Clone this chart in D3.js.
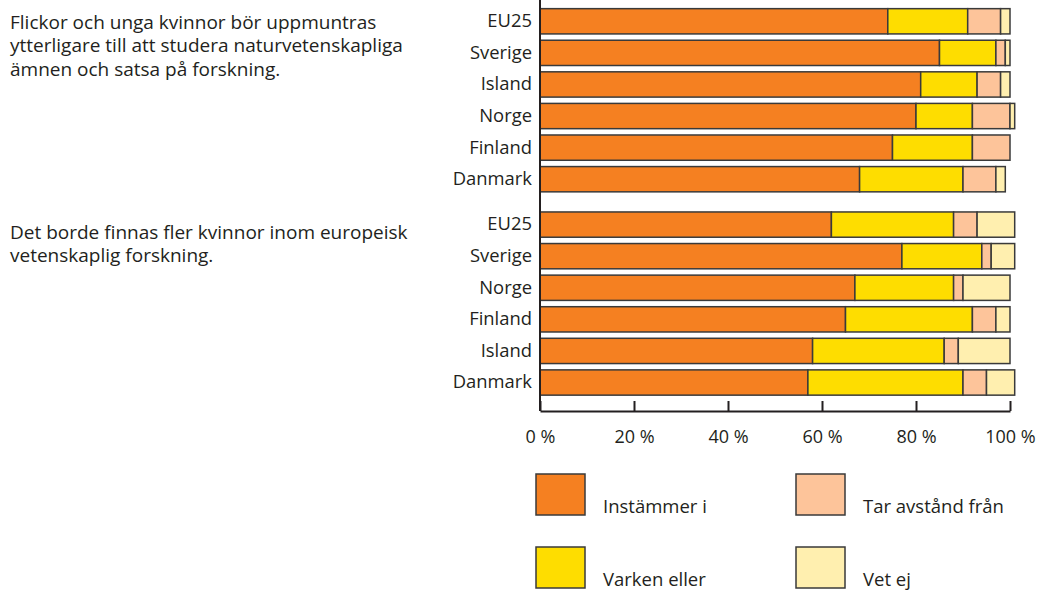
<!DOCTYPE html>
<html>
<head>
<meta charset="utf-8">
<script src="https://cdn.jsdelivr.net/npm/d3@7"></script>
<style>
	body { margin: 0; background: #fff; }
	text { font-family: "Open Sans", sans-serif; fill: #231f20; }
</style>
</head>
<body>
<script>
'use strict';
// answer categories (legend order)
let answers = ["Instämmer i", "Varken eller", "Tar avstånd från", "Vet ej"];
let colors = ["#f58021", "#fedd00", "#fdc49a", "#ffefaf"];

// question 1
let question1 = ["Flickor och unga kvinnor bör uppmuntras", "ytterligare till att studera naturvetenskapliga", "ämnen och satsa på forskning."];
let countries1 = ["EU25", "Sverige", "Island", "Norge", "Finland", "Danmark"];
let instammer1 = [74, 85, 81, 80, 75, 68];
let varken1 = [17, 12, 12, 12, 17, 22];
let tarAvstand1 = [7, 2, 5, 8, 8, 7];
let vetEj1 = [2, 1, 2, 1, 0, 2];

// question 2
let question2 = ["Det borde finnas fler kvinnor inom europeisk", "vetenskaplig forskning."];
let countries2 = ["EU25", "Sverige", "Norge", "Finland", "Island", "Danmark"];
let instammer2 = [62, 77, 67, 65, 58, 57];
let varken2 = [26, 17, 21, 27, 28, 33];
let tarAvstand2 = [5, 2, 2, 5, 3, 5];
let vetEj2 = [8, 5, 10, 3, 11, 6];

let xTicks = [0, 20, 40, 60, 80, 100];

let svg = d3.select("body").append("svg")
	.attr("width", 1041)
	.attr("height", 597);

let x = d3.scaleLinear().domain([0, 100]).range([540, 1010]);

let groups = [
	{q: question1, countries: countries1, vals: [instammer1, varken1, tarAvstand1, vetEj1], range: [5.5, 195], textY: 22},
	{q: question2, countries: countries2, vals: [instammer2, varken2, tarAvstand2, vetEj2], range: [208.8, 398.3], textY: 232}
];

let stack = d3.stack().keys(d3.range(answers.length));

groups.forEach(function(g){
	let rows = g.countries.map(function(c, i){
		return g.vals.map(function(v){ return v[i]; });
	});
	let y = d3.scaleBand().domain(d3.range(g.countries.length)).range(g.range)
		.paddingInner(0.2).paddingOuter(0.1);

	svg.append("g").selectAll("g")
		.data(stack(rows))
		.enter().append("g")
			.attr("fill", function(d){ return colors[d.key]; })
		.selectAll("rect")
		.data(function(d){ return d; })
		.enter().append("rect")
			.attr("x", function(d){ return x(d[0]); })
			.attr("y", function(d, i){ return y(i); })
			.attr("width", function(d){ return x(d[1]) - x(d[0]); })
			.attr("height", y.bandwidth())
			.attr("stroke", "#3a3a3a")
			.attr("stroke-width", 1.5);

	let yAxis = svg.append("g")
		.attr("transform", "translate(540,0)")
		.call(d3.axisLeft(y).tickSize(0).tickPadding(8).tickFormat(function(d){ return g.countries[d]; }));
	yAxis.select(".domain").remove();
	yAxis.selectAll("text").style("font-size", "18.4px").attr("fill", "#231f20");

	svg.append("text")
		.attr("x", 10)
		.attr("y", g.textY)
		.style("font-size", "19px")
		.selectAll("tspan")
		.data(g.q)
		.enter().append("tspan")
			.attr("x", 10)
			.attr("dy", function(d, i){ return i == 0 ? "0.35em" : 23.5; })
			.text(function(d){ return d; });
});

// axes
svg.append("line")
	.attr("x1", 540).attr("x2", 540)
	.attr("y1", 0).attr("y2", 411)
	.attr("stroke", "#231f20")
	.attr("stroke-width", 2);

let xAxis = svg.append("g")
	.attr("transform", "translate(0,411)")
	.call(d3.axisBottom(x).tickValues(xTicks).tickSizeInner(-10).tickSizeOuter(0).tickPadding(19)
		.tickFormat(function(d){ return d + "\u00a0%"; }));
xAxis.select(".domain").attr("stroke", "#231f20").attr("stroke-width", 2);
xAxis.selectAll("line").attr("stroke", "#231f20").attr("stroke-width", 2);
xAxis.selectAll("text").style("font-size", "18px").attr("fill", "#231f20");

// legend
let legendPos = [[536, 474], [536, 547], [796, 474], [796, 547]];
let legend = svg.append("g").selectAll("g")
	.data(answers)
	.enter().append("g")
		.attr("transform", function(d, i){ return "translate(" + legendPos[i][0] + "," + legendPos[i][1] + ")"; });

legend.append("rect")
	.attr("width", 49)
	.attr("height", 41)
	.attr("fill", function(d, i){ return colors[i]; })
	.attr("stroke", "#3a3a3a")
	.attr("stroke-width", 1.5);

legend.append("text")
	.attr("x", 67)
	.attr("y", 39)
	.style("font-size", "18.5px")
	.text(function(d){ return d; });
</script>
</body>
</html>
